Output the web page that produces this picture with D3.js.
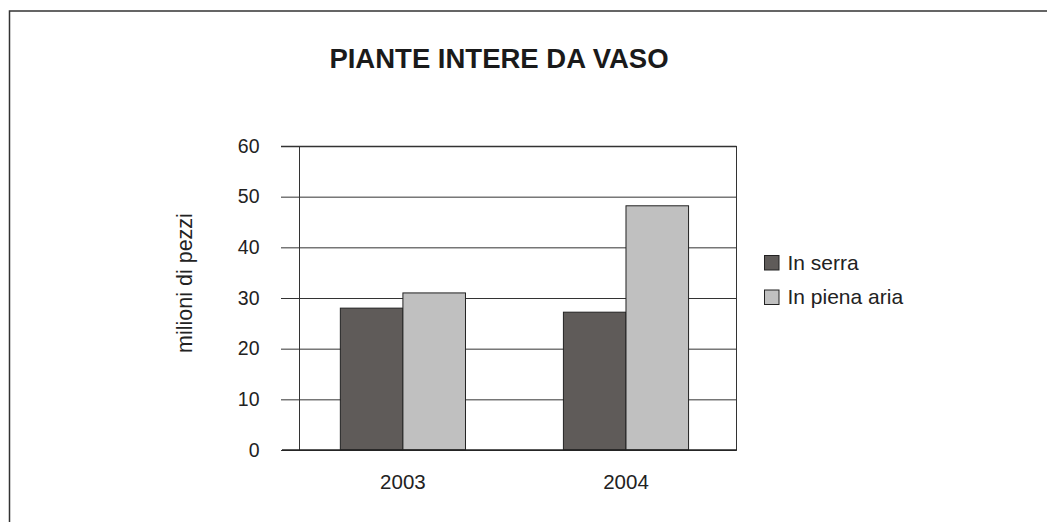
<!DOCTYPE html>
<html><head><meta charset="utf-8">
<script src="https://cdn.jsdelivr.net/npm/d3@7"></script>
<style>body{margin:0;background:#fff}svg{display:block;font-family:"Liberation Sans",Arial,sans-serif}</style>
</head><body><svg id="c" width="1047" height="522"></svg>
<script>
const categories = ["2003", "2004"];
const seriesNames = ["In serra", "In piena aria"];
const inSerra = [28, 27.2];
const inPienaAria = [31, 48.2];
const yTicks = [0, 10, 20, 30, 40, 50, 60];
const colors = ["#5f5b59", "#c0c0c0"];

const svg = d3.select("#c");
// outer frame
svg.append("path").attr("d", "M9.5,522 V11 H1047").attr("fill", "none").attr("stroke", "#333").attr("stroke-width", 1.5);

const pL = 299.5, pR = 736.5, pT = 146, pB = 450;
const y = d3.scaleLinear().domain([0, 60]).range([pB, pT]);
const x0 = d3.scaleBand().domain(categories).range([pL, pR]).paddingInner(0.439).paddingOuter(0.199).align(0.46);
const x1 = d3.scaleBand().domain(seriesNames).range([0, x0.bandwidth()]);

// gridlines
const grid = svg.append("g").attr("transform", `translate(${pR},0)`)
  .call(d3.axisLeft(y).tickValues(yTicks).tickSize(pR - 281).tickFormat(""));
grid.select(".domain").remove();
grid.selectAll("line").attr("stroke", "#333").attr("stroke-width", 1);
grid.selectAll(".tick").filter(d => d === 60).select("line").attr("stroke-width", 1.6);

// labels
const yl = svg.append("g").attr("transform", `translate(${pL},0)`)
  .call(d3.axisLeft(y).tickValues(yTicks).tickSize(0).tickPadding(40));
yl.select(".domain").remove();
yl.selectAll("text").attr("font-size", 19.5).attr("fill", "#222").attr("font-family", "Liberation Sans, Arial, sans-serif");

// left axis and right border
svg.append("line").attr("x1", pL).attr("x2", pL).attr("y1", pT).attr("y2", pB).attr("stroke", "#333");
svg.append("line").attr("x1", pR).attr("x2", pR).attr("y1", pT).attr("y2", pB).attr("stroke", "#333");

// bars
const data = categories.map((c, i) => ({ cat: c, vals: [inSerra[i], inPienaAria[i]] }));
const groups = svg.append("g").selectAll("g").data(data).join("g")
  .attr("transform", d => `translate(${x0(d.cat)},0)`);
groups.selectAll("rect").data(d => d.vals.map((v, j) => ({ name: seriesNames[j], v, j }))).join("rect")
  .attr("x", d => x1(d.name)).attr("width", x1.bandwidth())
  .attr("y", d => y(d.v)).attr("height", d => y(0) - y(d.v))
  .attr("fill", d => colors[d.j]).attr("stroke", "#222").attr("stroke-width", 1);

// bottom axis
svg.append("line").attr("x1", 282).attr("x2", pR + 0.5).attr("y1", pB).attr("y2", pB).attr("stroke", "#222").attr("stroke-width", 1.6);

// category labels
const xa = svg.append("g").attr("transform", `translate(0,${pB})`)
  .call(d3.axisBottom(x0).tickSize(0).tickPadding(24));
xa.select(".domain").remove();
xa.selectAll("text").attr("font-size", 20.5).attr("fill", "#222").attr("font-family", "Liberation Sans, Arial, sans-serif");

// title
svg.append("text").attr("x", 499).attr("y", 68).attr("text-anchor", "middle")
  .attr("font-size", 27.5).attr("font-weight", "bold").attr("fill", "#1a1a1a").text("PIANTE INTERE DA VASO");

// y axis title
svg.append("text").attr("transform", "translate(192,283) rotate(-90)").attr("text-anchor", "middle")
  .attr("font-size", 21.5).attr("fill", "#222").text("milioni di pezzi");

// legend
const lg = svg.append("g").selectAll("g").data(seriesNames).join("g")
  .attr("transform", (d, i) => `translate(764.5,${255.5 + i * 34.5})`);
lg.append("rect").attr("width", 14.5).attr("height", 14.5).attr("fill", (d, i) => colors[i]).attr("stroke", "#222");
lg.append("text").attr("x", 23).attr("y", 14).attr("font-size", 21).attr("fill", "#222").text(d => d);
</script></body></html>
